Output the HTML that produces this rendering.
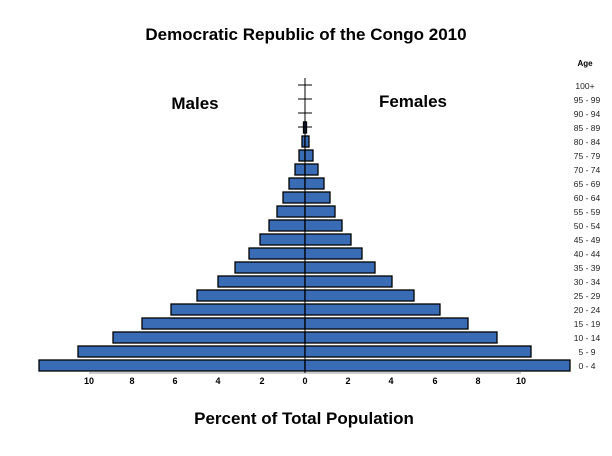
<!DOCTYPE html>
<html><head><style>
body{margin:0;background:#fff;}
svg{display:block;font-family:"Liberation Sans",Arial,sans-serif;}
</style></head><body>
<svg width="612" height="456" xmlns="http://www.w3.org/2000/svg">
<text x="306" y="40" font-size="17" font-weight="bold" text-anchor="middle">Democratic Republic of the Congo 2010</text>
<text x="195" y="109" font-size="17" font-weight="bold" text-anchor="middle">Males</text>
<text x="413" y="107" font-size="17" font-weight="bold" text-anchor="middle">Females</text>
<text x="585" y="66" font-size="8" font-weight="bold" text-anchor="middle">Age</text>
<text x="304" y="424" font-size="17" font-weight="bold" text-anchor="middle">Percent of Total Population</text>
<line x1="89" y1="373" x2="521" y2="373" stroke="#999" stroke-width="1"/>
<g id="bars" fill="#3a6bb5" stroke="#000" stroke-width="1.3">
<rect x="39" y="360" width="266" height="11"/><rect x="305" y="360" width="265" height="11"/>
<rect x="78" y="346" width="227" height="11"/><rect x="305" y="346" width="226" height="11"/>
<rect x="113" y="332" width="192" height="11"/><rect x="305" y="332" width="192" height="11"/>
<rect x="142" y="318" width="163" height="11"/><rect x="305" y="318" width="163" height="11"/>
<rect x="171" y="304" width="134" height="11"/><rect x="305" y="304" width="135" height="11"/>
<rect x="197" y="290" width="108" height="11"/><rect x="305" y="290" width="109" height="11"/>
<rect x="218" y="276" width="87" height="11"/><rect x="305" y="276" width="87" height="11"/>
<rect x="235" y="262" width="70" height="11"/><rect x="305" y="262" width="70" height="11"/>
<rect x="249" y="248" width="56" height="11"/><rect x="305" y="248" width="57" height="11"/>
<rect x="260" y="234" width="45" height="11"/><rect x="305" y="234" width="46" height="11"/>
<rect x="269" y="220" width="36" height="11"/><rect x="305" y="220" width="37" height="11"/>
<rect x="277" y="206" width="28" height="11"/><rect x="305" y="206" width="30" height="11"/>
<rect x="283" y="192" width="22" height="11"/><rect x="305" y="192" width="25" height="11"/>
<rect x="289" y="178" width="16" height="11"/><rect x="305" y="178" width="19" height="11"/>
<rect x="295" y="164" width="10" height="11"/><rect x="305" y="164" width="13" height="11"/>
<rect x="299" y="150" width="6" height="11"/><rect x="305" y="150" width="8" height="11"/>
<rect x="302" y="136" width="3" height="11"/><rect x="305" y="136" width="4" height="11"/>
<rect x="303.5" y="122" width="1.5" height="11"/><rect x="305" y="122" width="1.5" height="11"/>
</g>
<g stroke="#000" stroke-width="1">
<line x1="305" y1="78" x2="305" y2="373"/>
<line x1="298" y1="85" x2="312" y2="85"/>
<line x1="298" y1="99" x2="312" y2="99"/>
<line x1="298" y1="113" x2="312" y2="113"/>
<line x1="298" y1="127" x2="312" y2="127"/>
</g>
<g font-size="9" font-weight="bold" text-anchor="middle">
<text x="89" y="384">10</text><text x="132" y="384">8</text><text x="175" y="384">6</text><text x="218" y="384">4</text><text x="262" y="384">2</text><text x="305" y="384">0</text>
<text x="348" y="384">2</text><text x="391" y="384">4</text><text x="435" y="384">6</text><text x="478" y="384">8</text><text x="521" y="384">10</text>
</g>
<g font-size="8.5" text-anchor="middle" fill="#222">
<text x="587" y="369">0 - 4</text><text x="587" y="355">5 - 9</text><text x="587" y="341">10 - 14</text><text x="587" y="327">15 - 19</text>
<text x="587" y="313">20 - 24</text><text x="587" y="299">25 - 29</text><text x="587" y="285">30 - 34</text><text x="587" y="271">35 - 39</text>
<text x="587" y="257">40 - 44</text><text x="587" y="243">45 - 49</text><text x="587" y="229">50 - 54</text><text x="587" y="215">55 - 59</text>
<text x="587" y="201">60 - 64</text><text x="587" y="187">65 - 69</text><text x="587" y="173">70 - 74</text><text x="587" y="159">75 - 79</text>
<text x="587" y="145">80 - 84</text><text x="587" y="131">85 - 89</text><text x="587" y="117">90 - 94</text><text x="587" y="103">95 - 99</text>
<text x="585" y="89">100+</text>
</g>
</svg>
</body></html>
